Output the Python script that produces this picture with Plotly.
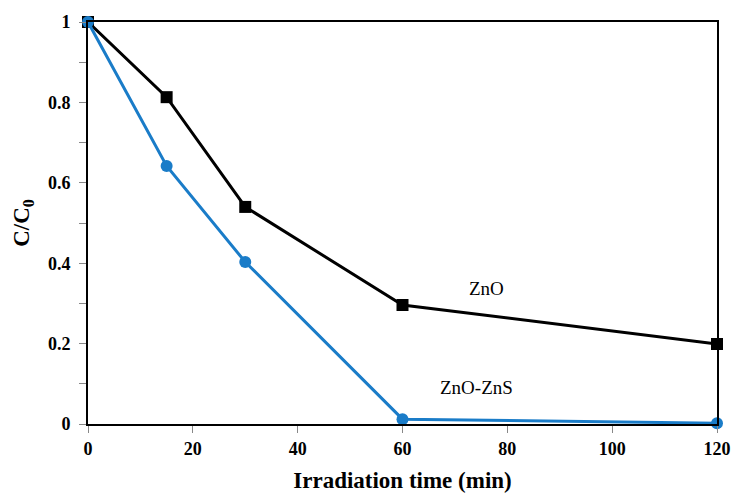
import plotly.graph_objects as go

time = [0, 15, 30, 60, 120]
zno = [1.0, 0.813, 0.54, 0.296, 0.199]
zno_zns = [1.0, 0.642, 0.403, 0.012, 0.002]

x_ticks = [0, 20, 40, 60, 80, 100, 120]
y_ticks = [0, 0.2, 0.4, 0.6, 0.8, 1]
y_tick_text = ["0", "0.2", "0.4", "0.6", "0.8", "1"]

font_fam = "Liberation Serif"

fig = go.Figure()
fig.add_trace(go.Scatter(x=time, y=zno, mode="lines+markers", name="ZnO",
                         line=dict(color="black", width=3),
                         marker=dict(symbol="square", size=12, color="black"),
                         cliponaxis=False))
fig.add_trace(go.Scatter(x=time, y=zno_zns, mode="lines+markers", name="ZnO-ZnS",
                         line=dict(color="#1a7cc8", width=3),
                         marker=dict(symbol="circle", size=12, color="#1a7cc8"),
                         cliponaxis=False))

fig.add_annotation(x=76.1, y=0.338, text="ZnO", showarrow=False,
                   font=dict(family=font_fam, size=19, color="black"))
fig.add_annotation(x=74.2, y=0.09, text="ZnO-ZnS", showarrow=False,
                   font=dict(family=font_fam, size=19, color="black"))

fig.update_layout(
    width=733, height=493,
    margin=dict(l=88, r=16, t=22, b=69),
    plot_bgcolor="white", paper_bgcolor="white",
    showlegend=False,
    font=dict(family=font_fam, color="black"),
    xaxis=dict(range=[0, 120], tickvals=x_ticks, ticks="outside", ticklen=7,
               tickcolor="#888", showgrid=False, zeroline=False, automargin=False,
               showline=True, linecolor="black", linewidth=2, mirror=True,
               tickfont=dict(family=font_fam, size=18, color="black", weight="bold"),
               title=dict(text="Irradiation time (min)", standoff=14,
                          font=dict(family=font_fam, size=23, color="black", weight="bold"))),
    yaxis=dict(range=[0, 1], tickvals=y_ticks, ticktext=y_tick_text, ticks="outside",
               ticklen=7, tickcolor="#888", showgrid=False, zeroline=False, automargin=False,
               showline=True, linecolor="black", linewidth=2, mirror=True,
               ticklabelstandoff=5,
               minor=dict(dtick=0.1, ticks="outside", ticklen=7, tickcolor="#888"),
               tickfont=dict(family=font_fam, size=18, color="black", weight="bold"),
               title=dict(text="C/C<sub>0</sub>", standoff=12,
                          font=dict(family=font_fam, size=23, color="black", weight="bold"))),
)

fig.write_html("out.html")
